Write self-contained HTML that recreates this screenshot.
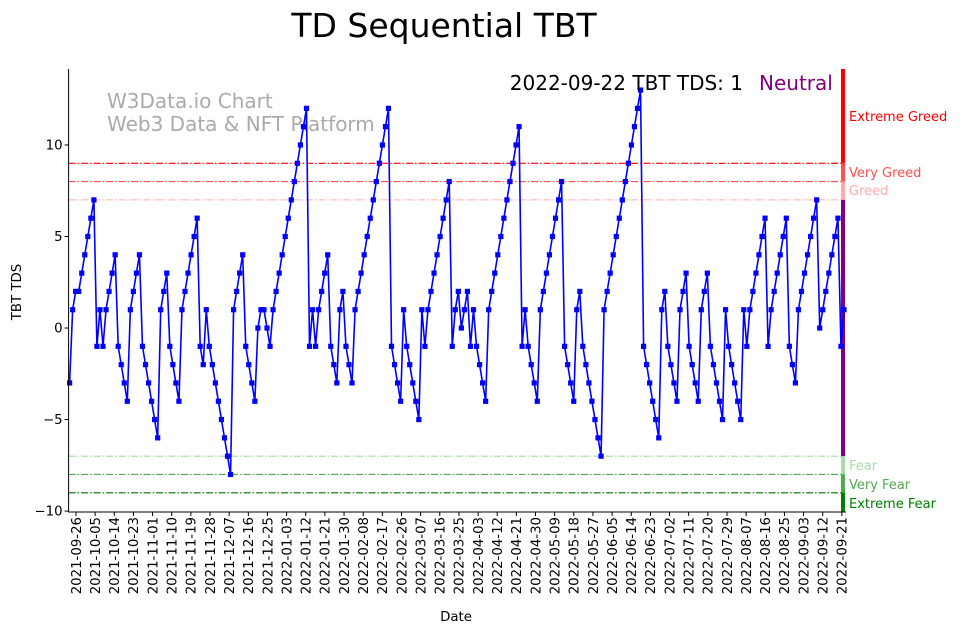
<!DOCTYPE html>
<html><head><meta charset="utf-8"><style>
body{margin:0;background:#fff;}
svg text{font-family:"DejaVu Sans","Liberation Sans",sans-serif;}
</style></head><body>
<svg id="chart" width="962" height="633" xmlns="http://www.w3.org/2000/svg">
<text x="444" y="37" font-size="33" text-anchor="middle">TD Sequential TBT</text>
<text x="107" y="108" font-size="20" fill="#aaaaaa">W3Data.io Chart</text>
<text x="107" y="131" font-size="20" fill="#aaaaaa">Web3 Data &amp; NFT Platform</text>
<g id="zones"></g>
<g id="grid"></g>
<g id="series"></g>
<g id="axes"></g>
<text x="743" y="90" font-size="20" text-anchor="end">2022-09-22 TBT TDS: 1</text>
<text x="759" y="90" font-size="20" fill="#800080">Neutral</text>
<text x="456" y="621" font-size="13.3" text-anchor="middle">Date</text>
<text transform="translate(21,292) rotate(-90)" font-size="13.3" text-anchor="middle">TBT TDS</text>
</svg>
<script>
const values=[-3,1,2,2,3,4,5,6,7,-1,1,-1,1,2,3,4,-1,-2,-3,-4,1,2,3,4,-1,-2,-3,-4,-5,-6,1,2,3,-1,-2,-3,-4,1,2,3,4,5,6,-1,-2,1,-1,-2,-3,-4,-5,-6,-7,-8,1,2,3,4,-1,-2,-3,-4,0,1,1,0,-1,1,2,3,4,5,6,7,8,9,10,11,12,-1,1,-1,1,2,3,4,-1,-2,-3,1,2,-1,-2,-3,1,2,3,4,5,6,7,8,9,10,11,12,-1,-2,-3,-4,1,-1,-2,-3,-4,-5,1,-1,1,2,3,4,5,6,7,8,-1,1,2,0,1,2,-1,1,-1,-2,-3,-4,1,2,3,4,5,6,7,8,9,10,11,-1,1,-1,-2,-3,-4,1,2,3,4,5,6,7,8,-1,-2,-3,-4,1,2,-1,-2,-3,-4,-5,-6,-7,1,2,3,4,5,6,7,8,9,10,11,12,13,-1,-2,-3,-4,-5,-6,1,2,-1,-2,-3,-4,1,2,3,-1,-2,-3,-4,1,2,3,-1,-2,-3,-4,-5,1,-1,-2,-3,-4,-5,1,-1,1,2,3,4,5,6,-1,1,2,3,4,5,6,-1,-2,-3,1,2,3,4,5,6,7,0,1,2,3,4,5,6,-1,1];
const yTicks=[-10,-5,0,5,10];
const startDate="2021-09-23", endDate="2022-09-22", firstTick="2021-09-26", tickStepDays=9;
const levels=[9,8,7,-7,-8,-9];
const levelColors=["#ff0000","#ff5050","#ffaaaa","#a0dca0","#50a850","#007000"];
const zoneNames=["Extreme Greed","Very Greed","Greed","Fear","Very Fear","Extreme Fear"];

const NS="http://www.w3.org/2000/svg";
const X0=69.6,X1=844,YT=69,YB=512;
const yMin=-10.05,yMax=14.15;
const DAY=86400000;
const totalDays=(Date.parse(endDate)-Date.parse(startDate))/DAY;
function yS(v){return YB-(v-yMin)/(yMax-yMin)*(YB-YT);}
function xDay(d){return X0+d/totalDays*(X1-X0);}
function xIdx(i){return X0+i/(values.length-1)*(X1-X0);}
function mk(tag,at,parent){const e=document.createElementNS(NS,tag);for(const k in at)e.setAttribute(k,at[k]);parent.appendChild(e);return e;}
const zones=document.getElementById('zones'),grid=document.getElementById('grid'),series=document.getElementById('series'),axes=document.getElementById('axes');

levels.forEach((lv,i)=>{
 const l=mk('line',{x1:X0-1,x2:X1,y1:yS(lv),y2:yS(lv),stroke:levelColors[i],'stroke-width':1.1,'stroke-dasharray':'7,2,1.5,2'},grid);
 
 
});
const bands=[[yMax,9,"#ff0000"],[9,8,"#ff5050"],[8,7,"#ffaaaa"],[7,-7,"#800080"],[-7,-8,"#a8dca8"],[-8,-9,"#50a850"],[-9,yMin,"#008000"]];
bands.forEach((b,i)=>{
 const r=mk('rect',{x:841,y:yS(b[0]),width:4,height:yS(b[1])-yS(b[0]),fill:b[2]},zones);
 
 
});
const zoneLabelY=[116,172,190,465,484,503];
const zoneLabelC=["#ff0000","#ff5050","#ffaaaa","#a8dca8","#50a850","#008000"];
zoneNames.forEach((n,i)=>{
 const t=mk('text',{x:849,y:zoneLabelY[i]+5,'font-size':13,fill:zoneLabelC[i]},zones);
 t.textContent=n;
 
 
});
let d='';values.forEach((v,i)=>{d+=(i?'L':'M')+xIdx(i).toFixed(2)+','+yS(v).toFixed(2);});
const p=mk('path',{d:d,fill:'none',stroke:'#0000ff','stroke-width':1.6},series);


values.forEach((v,i)=>{
 const r=mk('rect',{x:xIdx(i)-2.6,y:yS(v)-2.6,width:5.2,height:5.2,fill:'#0000ff'},series);
 
 
});
const la=mk('line',{x1:X0-1,x2:X0-1,y1:YT,y2:YB,stroke:'#000','stroke-width':1},axes);


const ba=mk('line',{x1:X0-1.5,x2:X1+2,y1:YB,y2:YB,stroke:'#000','stroke-width':1},axes);


yTicks.forEach(v=>{
 mk('line',{x1:X0-5,x2:X0-1,y1:yS(v),y2:yS(v),stroke:'#000'},axes);
 const t=mk('text',{x:X0-7,y:yS(v)+4.5,'font-size':13.3,'text-anchor':'end'},axes);
 t.textContent=String(v).replace('-','\u2212');
 
 
});
for(let ms=Date.parse(firstTick);ms<=Date.parse(endDate);ms+=tickStepDays*DAY){
 const x=xDay((ms-Date.parse(startDate))/DAY);
 mk('line',{x1:x,x2:x,y1:YB,y2:YB+4,stroke:'#000'},axes);
 const t=mk('text',{transform:'translate('+(x+4.8)+',517) rotate(-90)','font-size':13.3,'text-anchor':'end'},axes);
 t.textContent=new Date(ms).toISOString().slice(0,10);
 
 
}
</script>
</body></html>
